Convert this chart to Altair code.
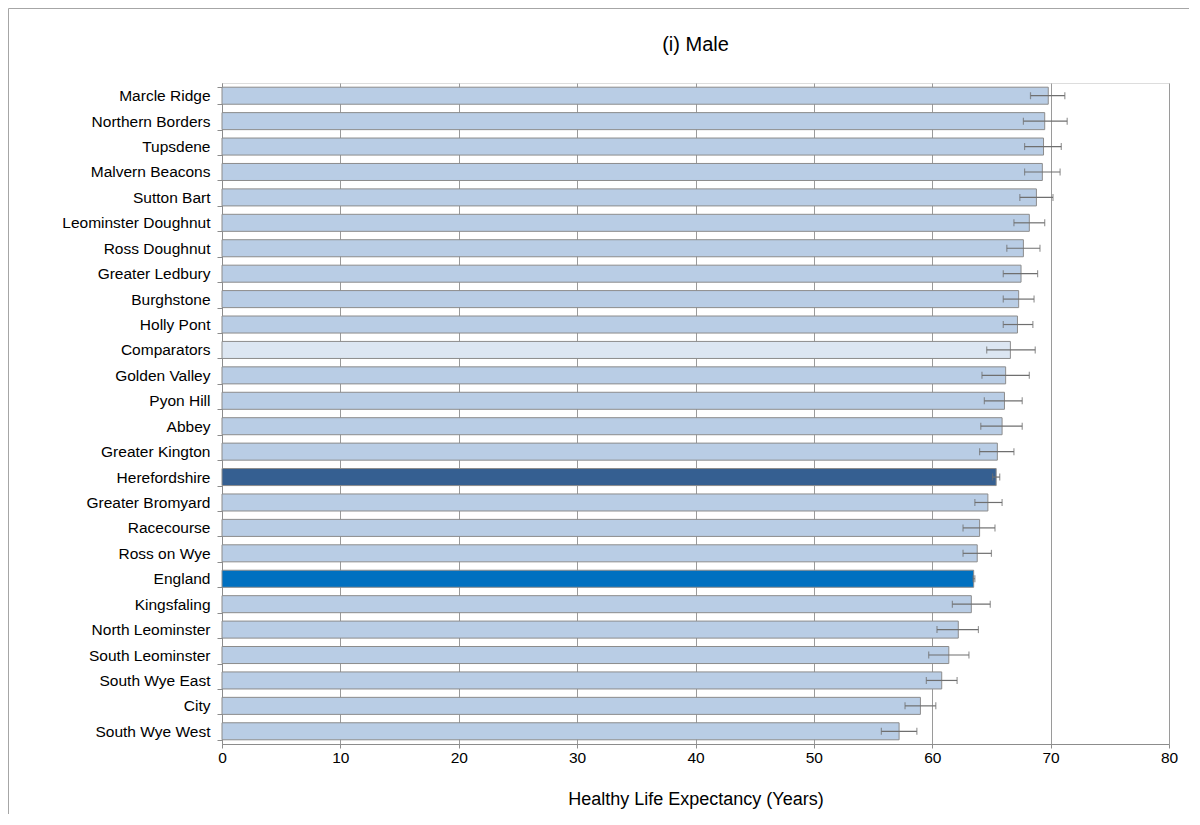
import altair as alt
import pandas as pd

categories = [
    "Marcle Ridge", "Northern Borders", "Tupsdene", "Malvern Beacons", "Sutton Bart",
    "Leominster Doughnut", "Ross Doughnut", "Greater Ledbury", "Burghstone", "Holly Pont",
    "Comparators", "Golden Valley", "Pyon Hill", "Abbey", "Greater Kington",
    "Herefordshire", "Greater Bromyard", "Racecourse", "Ross on Wye", "England",
    "Kingsfaling", "North Leominster", "South Leominster", "South Wye East", "City",
    "South Wye West",
]
values = [69.8, 69.5, 69.4, 69.3, 68.8, 68.2, 67.7, 67.5, 67.3, 67.2,
          66.6, 66.2, 66.1, 65.9, 65.5, 65.4, 64.7, 64.0, 63.8, 63.5,
          63.3, 62.2, 61.4, 60.8, 59.0, 57.2]
lower = [68.3, 67.7, 67.8, 67.8, 67.4, 66.9, 66.3, 66.0, 66.0, 66.0,
         64.6, 64.2, 64.4, 64.1, 64.0, 65.1, 63.6, 62.6, 62.6, 63.45,
         61.7, 60.4, 59.7, 59.5, 57.7, 55.7]
upper = [71.2, 71.4, 70.9, 70.8, 70.2, 69.5, 69.1, 68.9, 68.6, 68.5,
         68.7, 68.2, 67.6, 67.6, 66.9, 65.7, 65.9, 65.3, 65.0, 63.6,
         64.9, 63.9, 63.1, 62.1, 60.3, 58.7]
groups = ["area"] * 10 + ["comparator"] + ["area"] * 4 + ["county"] + ["area"] * 3 + ["england"] + ["area"] * 6

group_domain = ["area", "comparator", "county", "england"]
group_colors = ["#B9CDE5", "#DCE6F2", "#355F91", "#0070C0"]

df = pd.DataFrame({"name": categories, "value": values, "lo": lower, "hi": upper, "group": groups})

W, H = 947, 661
PAD = {"left": 214, "top": 75, "right": 20, "bottom": 70}
FONT = "Liberation Sans"

y_enc = alt.Y("name:N", sort=categories,
              scale=alt.Scale(paddingInner=0.33, paddingOuter=0.165),
              axis=alt.Axis(title=None, labelFontSize=15.5, labelColor="#000000", labelFont=FONT,
                            tickBand="extent", tickSize=5, tickColor="#8C8C8C",
                            domainColor="#8C8C8C", labelPadding=7, labelLimit=400))

x_enc = alt.X("value:Q",
              scale=alt.Scale(domain=[0, 80], nice=False, zero=True),
              axis=alt.Axis(values=list(range(0, 81, 10)), grid=True, gridColor="#9A9A9A",
                            tickSize=4, tickColor="#8C8C8C", domainColor="#8C8C8C",
                            labelFontSize=15.5, labelColor="#000000", labelFont=FONT,
                            labelPadding=2, labelFlush=False,
                            title="Healthy Life Expectancy (Years)", titleFontSize=18,
                            titleFontWeight="normal", titleColor="#000000", titleFont=FONT,
                            titlePadding=25))

base = alt.Chart(df)

bars = base.mark_bar(stroke="#8C8C8C", strokeWidth=1).encode(
    x=x_enc,
    y=y_enc,
    color=alt.Color("group:N", scale=alt.Scale(domain=group_domain, range=group_colors), legend=None),
)

err = base.mark_rule(color="#6F6F6F", strokeWidth=1.2).encode(
    x=alt.X("lo:Q"), x2="hi:Q", y=alt.Y("name:N", sort=categories))

cap_lo = base.mark_tick(color="#6F6F6F", thickness=1.2, size=7).encode(
    x=alt.X("lo:Q"), y=alt.Y("name:N", sort=categories))
cap_hi = base.mark_tick(color="#6F6F6F", thickness=1.2, size=7).encode(
    x=alt.X("hi:Q"), y=alt.Y("name:N", sort=categories))

frame_top = alt.Chart(pd.DataFrame({"k": [0]})).mark_rule(color="#A6A6A6", strokeWidth=1).encode(
    x=alt.value(-213.5), x2=alt.value(W + PAD["right"]), y=alt.value(-74.5))
frame_left = alt.Chart(pd.DataFrame({"k": [0]})).mark_rule(color="#A6A6A6", strokeWidth=1).encode(
    x=alt.value(-213.5), y=alt.value(-74.5), y2=alt.value(H + PAD["bottom"]))

chart = alt.layer(bars, err, cap_lo, cap_hi, frame_top, frame_left).properties(
    width=W, height=H,
    padding=PAD,
    autosize=alt.AutoSizeParams(type="none"),
    title=alt.TitleParams("(i) Male", fontSize=20, fontWeight="normal", font=FONT,
                          color="#000000", anchor="middle", offset=6, dy=53),
).configure_view(stroke="#8C8C8C", strokeWidth=1).configure(background="#FFFFFF")

chart.save("out.html", embed_options={"renderer": "svg", "actions": False})
